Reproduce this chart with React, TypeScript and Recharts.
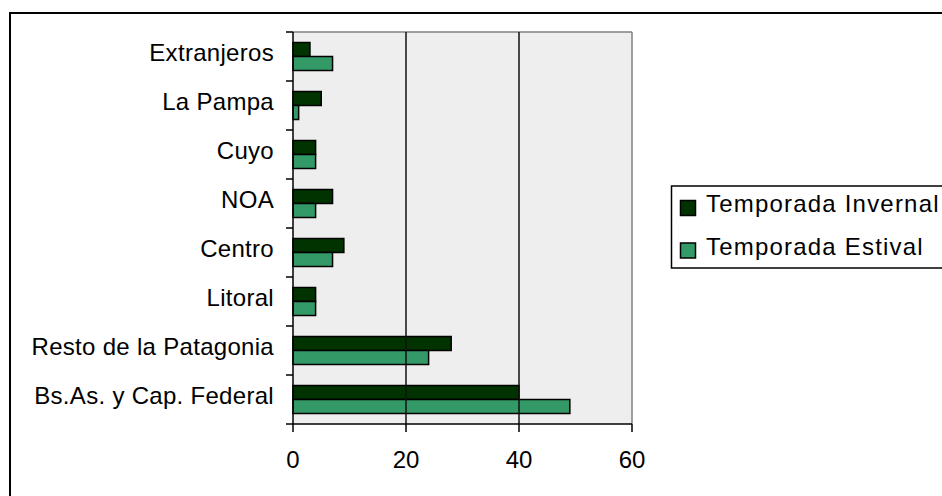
import React from 'react';
import { BarChart, Bar, XAxis, YAxis, CartesianGrid, ReferenceLine } from 'recharts';

const categories = [
  'Extranjeros',
  'La Pampa',
  'Cuyo',
  'NOA',
  'Centro',
  'Litoral',
  'Resto de la Patagonia',
  'Bs.As. y Cap. Federal',
];
const invernal = [3, 5, 4, 7, 9, 4, 28, 40];
const estival = [7, 1, 4, 4, 7, 4, 24, 49];
const xTicks = [0, 20, 40, 60];
const seriesNames = ['Temporada Invernal', 'Temporada Estival'];
const seriesColors = ['#003300', '#339966'];

const data = categories.map((name, i) => ({ name, invernal: invernal[i], estival: estival[i] }));

const FONT = '"Liberation Sans", Arial, sans-serif';
const Y_TICK_LEN = 7;
const Y_LABEL_GAP = 12;

const CategoryTick = (props: any) => {
  const { x, y, payload, index, visibleTicksCount, height } = props;
  const band = height && visibleTicksCount ? height / visibleTicksCount : 49;
  const axisX = x + Y_TICK_LEN + Y_LABEL_GAP;
  const top = y - band / 2;
  const bottom = y + band / 2;
  return (
    <g>
      <line x1={axisX - Y_TICK_LEN} x2={axisX} y1={top} y2={top} stroke="#000" strokeWidth={1.5} />
      {index === visibleTicksCount - 1 && (
        <line x1={axisX - Y_TICK_LEN} x2={axisX} y1={bottom} y2={bottom} stroke="#000" strokeWidth={1.5} />
      )}
      <text
        x={x}
        y={y + 4.6}
        textAnchor="end"
        fontFamily={FONT}
        fontSize={24}
        letterSpacing={0.3}
        fill="#000"
      >
        {payload.value}
      </text>
    </g>
  );
};

export default function App() {
  return (
    <div
      style={{
        position: 'absolute',
        left: 0,
        top: 0,
        width: 942,
        height: 496,
        overflow: 'hidden',
        background: '#fff',
      }}
    >
      <BarChart
        width={942}
        height={496}
        data={data}
        layout="vertical"
        margin={{ top: 32, right: 310, bottom: 32, left: 0 }}
        barCategoryGap="21.4%"
        barGap={0}
      >
        <CartesianGrid
          vertical={false}
          horizontal={true}
          stroke="#808080"
          strokeWidth={1.5}
          fill="#EEEEEE"
          fillOpacity={1}
          horizontalCoordinatesGenerator={({ offset }: any) => [offset.top]}
        />
        <XAxis
          type="number"
          domain={[0, 60]}
          ticks={xTicks}
          height={40}
          tickSize={8}
          tickMargin={19}
          axisLine={{ stroke: '#000', strokeWidth: 1.5 }}
          tickLine={{ stroke: '#000', strokeWidth: 1.5 }}
          tick={{ fill: '#000', fontSize: 24, fontFamily: FONT }}
        />
        <YAxis
          type="category"
          dataKey="name"
          width={293}
          interval={0}
          tickSize={Y_TICK_LEN}
          tickMargin={Y_LABEL_GAP}
          tickLine={false}
          axisLine={{ stroke: '#000', strokeWidth: 1.5 }}
          tick={<CategoryTick />}
        />
        <ReferenceLine x={20} stroke="#111" strokeWidth={1.5} />
        <ReferenceLine x={40} stroke="#111" strokeWidth={1.5} />
        <ReferenceLine x={60} stroke="#808080" strokeWidth={1.5} />
        <Bar
          dataKey="invernal"
          name={seriesNames[0]}
          fill={seriesColors[0]}
          stroke="#000"
          strokeWidth={1.5}
          isAnimationActive={false}
        />
        <Bar
          dataKey="estival"
          name={seriesNames[1]}
          fill={seriesColors[1]}
          stroke="#000"
          strokeWidth={1.5}
          isAnimationActive={false}
        />
      </BarChart>
      <svg
        width={942}
        height={496}
        style={{ position: 'absolute', left: 0, top: 0, pointerEvents: 'none' }}
      >
        <line x1={10} y1={12} x2={10} y2={496} stroke="#000" strokeWidth={2} />
        <line x1={9} y1={13} x2={942} y2={13} stroke="#000" strokeWidth={2} />
        <rect x={671.5} y={186} width={300} height={82} fill="#fff" stroke="#000" strokeWidth={1.5} />
        {seriesNames.map((n, i) => (
          <g key={n}>
            <rect
              x={680.5}
              y={200.5 + i * 42.5}
              width={15}
              height={15}
              fill={seriesColors[i]}
              stroke="#000"
              strokeWidth={1.5}
            />
            <text
              x={706}
              y={212 + i * 42.5}
              fontFamily={FONT}
              fontSize={24}
              letterSpacing={1.2}
              fill="#000"
            >
              {n}
            </text>
          </g>
        ))}
      </svg>
    </div>
  );
}
